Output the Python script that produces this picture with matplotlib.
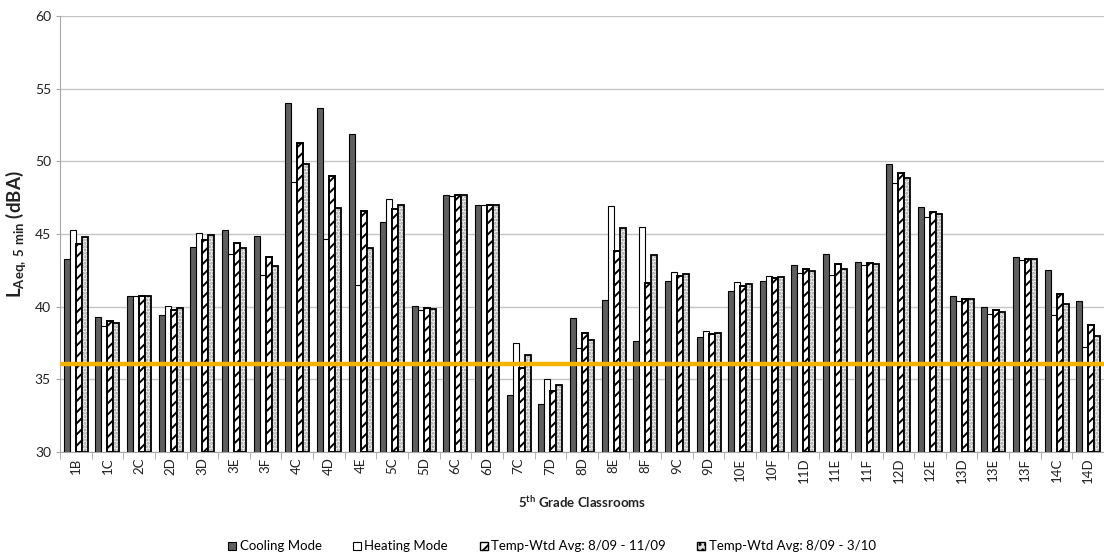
import matplotlib
matplotlib.use("Agg")
import matplotlib.pyplot as plt
from matplotlib.patches import Patch
import numpy as np

plt.rcParams['font.family'] = ['Lato', 'DejaVu Sans']
plt.rcParams['mathtext.fontset'] = 'custom'
plt.rcParams['mathtext.rm'] = 'Lato'
plt.rcParams['mathtext.bf'] = 'Lato:bold'
plt.rcParams['hatch.linewidth'] = 1.4

# Classroom noise levels, LAeq 5 min (dBA)
rooms = ['1B', '1C', '2C', '2D', '3D', '3E', '3F', '4C', '4D', '4E', '5C', '5D',
         '6C', '6D', '7C', '7D', '8D', '8E', '8F', '9C', '9D', '10E', '10F', '11D',
         '11E', '11F', '12D', '12E', '13D', '13E', '13F', '14C', '14D']
cooling = [43.3, 39.3, 40.7, 39.45, 44.1, 45.25, 44.85, 54.0, 53.65, 51.85, 45.85, 40.05,
           47.7, 47.0, 33.9, 33.3, 39.2, 40.45, 37.65, 41.8, 37.9, 41.1, 41.8, 42.85,
           43.65, 43.1, 49.85, 46.85, 40.7, 40.0, 43.4, 42.5, 40.4]
heating = [45.3, 38.7, 40.75, 40.05, 45.1, 43.6, 42.15, 48.55, 44.65, 41.5, 47.4, 39.8,
           47.6, 47.0, 37.5, 35.05, 37.15, 46.95, 45.45, 42.4, 38.3, 41.7, 42.1, 42.3,
           42.2, 42.9, 48.5, 46.15, 40.4, 39.5, 43.2, 39.4, 37.2]
avg_nov = [44.3, 39.0, 40.75, 39.75, 44.6, 44.4, 43.45, 51.25, 49.0, 46.55, 46.7, 39.9,
           47.7, 47.0, 35.8, 34.2, 38.2, 43.85, 41.65, 42.1, 38.15, 41.45, 42.0, 42.6,
           42.95, 43.0, 49.2, 46.5, 40.55, 39.75, 43.3, 40.9, 38.75]
avg_mar = [44.8, 38.85, 40.75, 39.9, 44.9, 44.05, 42.8, 49.85, 46.8, 44.05, 47.0, 39.85,
           47.65, 47.0, 36.65, 34.6, 37.7, 45.4, 43.55, 42.25, 38.2, 41.55, 42.05, 42.45,
           42.6, 42.95, 48.85, 46.35, 40.5, 39.6, 43.3, 40.15, 38.0]
criterion = 36.05

fig = plt.figure(figsize=(11.04, 5.56), dpi=100)
ax = fig.add_axes([60 / 1104, 104 / 556, 1 - 60 / 1104, 436 / 556])

x = np.arange(len(rooms))
w = 0.19
base = 30
dark = '#5f5f5f'

ax.bar(x - 1.5 * w, np.array(cooling) - base, w, bottom=base,
       color=dark, edgecolor='black', linewidth=0.8, zorder=3)
ax.bar(x - 0.5 * w, np.array(heating) - base, w, bottom=base,
       color='white', edgecolor='black', linewidth=0.8, zorder=3)
ax.bar(x + 0.5 * w, np.array(avg_nov) - base, w, bottom=base,
       color='white', edgecolor='black', hatch='///', linewidth=1.4, zorder=3)
# stippled fill first, then a black outline over it
ax.bar(x + 1.5 * w, np.array(avg_mar) - base, w, bottom=base,
       color='#efefef', edgecolor='#9a9a9a', hatch='.....', linewidth=0, zorder=3)
ax.bar(x + 1.5 * w, np.array(avg_mar) - base, w, bottom=base,
       fill=False, edgecolor='black', linewidth=1.3, zorder=4)

ax.axhline(criterion, color='#f5b301', linewidth=3.2, zorder=5)

ax.set_ylim(30, 60)
ax.set_xlim(-0.5, -0.5 + 1044 / 31.9)
ax.set_yticks(np.arange(30, 61, 5))
ax.yaxis.grid(True, color='#c4c4c4', linewidth=1.0, zorder=0)
ax.set_axisbelow(True)

ax.set_xticks(x)
ax.set_xticklabels(rooms, rotation=90, fontsize=9.5, color='#222222')
ax.set_xticks(np.arange(-0.5, len(rooms), 1), minor=True)
ax.tick_params(axis='x', which='major', length=0, pad=4)
ax.tick_params(axis='x', which='minor', length=5, color='#a8a8a8')
ax.tick_params(axis='y', length=3, color='#a8a8a8', labelsize=10, labelcolor='#222222')

for side in ['top', 'right']:
    ax.spines[side].set_visible(False)
for side in ['left', 'bottom']:
    ax.spines[side].set_color('#a8a8a8')

ax.set_ylabel(r'$\mathbf{L_{Aeq,\,5\ min}}$ (dBA)', fontsize=13.5, fontweight='bold',
              color='#222222', labelpad=5)
ax.set_xlabel(r'5$^{\mathbf{th}}$ Grade Classrooms', fontsize=9.5, fontweight='bold',
              color='#222222', labelpad=8)

handles = [
    Patch(facecolor=dark, edgecolor='black', linewidth=0.8),
    Patch(facecolor='white', edgecolor='black', linewidth=0.8),
    Patch(facecolor='white', edgecolor='black', hatch='///', linewidth=1.0),
    Patch(facecolor='#dcdcdc', edgecolor='black', hatch='...', linewidth=1.0),
]
labels = ['Cooling Mode', 'Heating Mode', 'Temp-Wtd Avg: 8/09 - 11/09',
          'Temp-Wtd Avg: 8/09 - 3/10']
fig.legend(handles, labels, loc='lower center', bbox_to_anchor=(0.5, -0.015), ncol=4,
           frameon=False, fontsize=9.5, handlelength=0.6, handleheight=0.6,
           handletextpad=0.25, columnspacing=2.4)

fig.savefig('out.png', dpi=100)
